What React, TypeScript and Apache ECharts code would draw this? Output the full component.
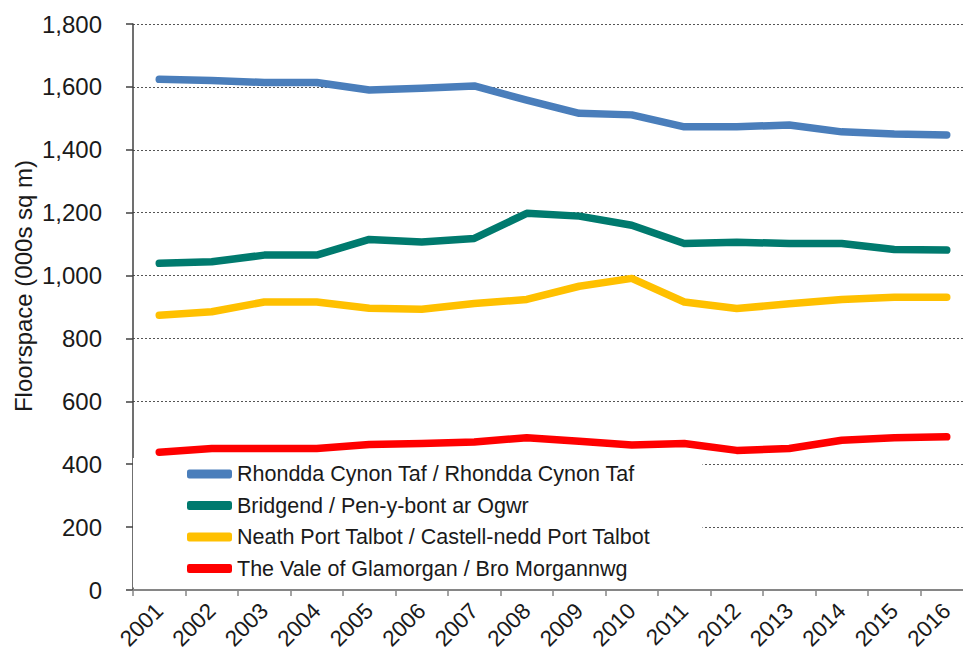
import React, { useEffect, useRef } from "react";
import * as echarts from "echarts";

const years = ["2001","2002","2003","2004","2005","2006","2007","2008","2009","2010","2011","2012","2013","2014","2015","2016"];
const rhondda = [1624,1620,1614,1614,1590,1596,1603,1558,1516,1511,1473,1473,1479,1457,1450,1447];
const bridgend = [1039,1044,1065,1065,1115,1107,1118,1198,1189,1160,1102,1106,1102,1102,1083,1081];
const neath = [874,885,916,916,896,893,911,924,966,991,916,895,910,924,931,931];
const vale = [438,450,450,450,463,466,471,484,473,461,466,444,450,476,484,487];
const names = [
  "Rhondda Cynon Taf / Rhondda Cynon Taf",
  "Bridgend / Pen-y-bont ar Ogwr",
  "Neath Port Talbot / Castell-nedd Port Talbot",
  "The Vale of Glamorgan / Bro Morgannwg",
];
const colors = ["#4a7ebb", "#007a6e", "#ffc000", "#ff0000"];
const yTicks = { min: 0, max: 1800, interval: 200 };
const yTitle = "Floorspace (000s sq m)";

const FONT = "'Liberation Sans', Arial, sans-serif";

export default function App() {
  const ref = useRef<HTMLDivElement>(null);
  useEffect(() => {
    if (!ref.current) return;
    const chart = echarts.init(ref.current, null, { renderer: "svg" });
    const seriesData = [rhondda, bridgend, neath, vale];
    chart.setOption({
      animation: false,
      backgroundColor: "#ffffff",
      textStyle: { fontFamily: FONT },
      grid: { left: 133, top: 24, width: 840, height: 566, containLabel: false, outerBoundsMode: "none" },
      legend: {
        orient: "vertical",
        left: 133,
        top: 458,
        padding: [5, 52, 8, 54],
        backgroundColor: "#ffffff",
        itemWidth: 45,
        itemHeight: 9,
        itemGap: 9.5,
        icon: "roundRect",
        textStyle: { fontFamily: FONT, fontSize: 21.5, color: "#1a1a1a", lineHeight: 22 },
        data: names,
      },
      xAxis: {
        type: "category",
        data: years,
        boundaryGap: true,
        axisLine: { show: true, lineStyle: { color: "#868686", width: 2 } },
        axisTick: { show: true, length: 6, lineStyle: { color: "#868686", width: 1.5 } },
        axisLabel: { rotate: 45, fontSize: 22.5, color: "#1a1a1a", margin: 17, fontFamily: FONT, interval: 0 },
        splitLine: { show: false },
      },
      yAxis: {
        type: "value",
        min: yTicks.min,
        max: yTicks.max,
        interval: yTicks.interval,
        axisLine: { show: true, lineStyle: { color: "#404040", width: 1.5 } },
        axisTick: { show: true, inside: false, length: 7, lineStyle: { color: "#404040", width: 1.5 } },
        axisLabel: {
          fontSize: 24,
          color: "#1a1a1a",
          margin: 31,
          fontFamily: FONT,
          formatter: (v: number) => v.toLocaleString("en-US"),
        },
        splitLine: { show: true, lineStyle: { color: "#555555", width: 1, type: [2, 2] } },
      },
      graphic: [
        {
          type: "text",
          x: 23,
          y: 286,
          rotation: Math.PI / 2,
          style: {
            text: yTitle,
            font: `24px ${FONT}`,
            fill: "#1a1a1a",
            textAlign: "center",
            textVerticalAlign: "middle",
          },
        },
      ],
      series: names.map((n, i) => ({
        name: n,
        type: "line",
        data: seriesData[i],
        symbol: "none",
        smooth: false,
        color: colors[i],
        lineStyle: { width: 7.5, color: colors[i], cap: "round", join: "round" },
        z: 2,
      })),
    });
    return () => chart.dispose();
  }, []);
  return (
    <div style={{ position: "fixed", left: 0, top: 0, width: 963, height: 658, overflow: "hidden", background: "#fff" }}>
      <div ref={ref} style={{ width: 963, height: 658 }} />
    </div>
  );
}
